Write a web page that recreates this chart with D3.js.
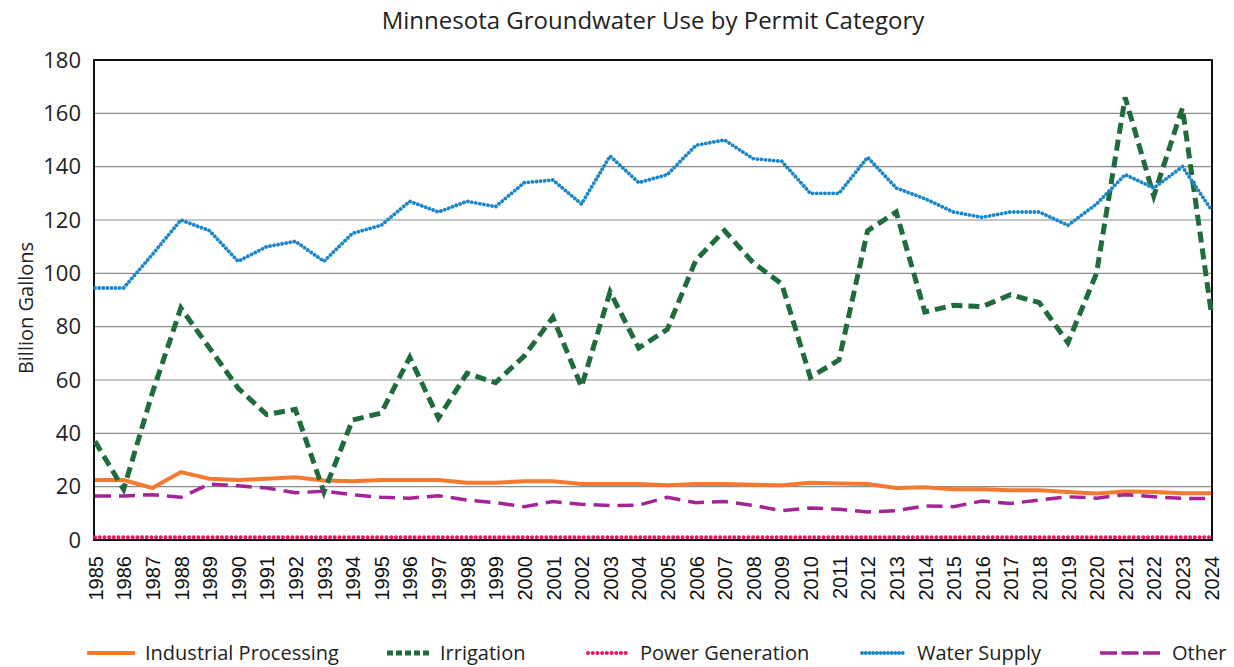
<!DOCTYPE html>
<html>
<head>
<meta charset="utf-8">
<script src="https://cdn.jsdelivr.net/npm/d3@7"></script>
<style>
  body { margin: 0; background: #fff; }
  svg { display: block; }
</style>
</head>
<body>
<div id="chart"></div>
<script>
/* DATA */
const years = d3.range(1985, 2025).map(String);
const yTicks = [0, 20, 40, 60, 80, 100, 120, 140, 160, 180];

const industrial = [22.5, 22.5, 19.5, 25.5, 23, 22.5, 23, 23.5, 22.3, 22, 22.5, 22.5, 22.5, 21.5, 21.5, 22, 22, 21, 21, 21,
  20.5, 21, 21, 20.7, 20.5, 21.5, 21.2, 21, 19.5, 19.8, 19, 19, 18.7, 18.7, 18, 17.4, 18.2, 18, 17.5, 17.5];
const irrigation = [37, 19, 55, 87, 72, 57, 47, 49, 18, 45, 47.6, 68.5, 45.7, 62.5, 59, 69, 83.5, 57.5, 93, 72,
  79, 105, 116, 104, 96, 61, 67.5, 116, 123, 85.5, 88, 87.5, 92, 89, 74, 100, 166, 129, 162, 86];
const power = [1, 1, 1, 1, 1, 1, 1, 1, 1, 1, 1, 1, 1, 1, 1, 1, 1, 1, 1, 1,
  1, 1, 1, 1, 1, 1, 1, 1, 1, 1, 1, 1, 1, 1, 1, 1, 1, 1, 1, 1];
const waterSupply = [94.5, 94.5, 107, 120, 116, 104.5, 110, 112, 104.5, 115, 118, 127, 123, 127, 125, 134, 135, 126, 144, 134,
  137, 148, 150, 143, 142, 130, 130, 143.5, 132, 128, 123, 121, 123, 123, 118, 126, 137, 132, 140, 124];
const other = [16.5, 16.5, 17, 16, 21, 20.3, 19.5, 17.7, 18.3, 17, 16, 15.7, 16.6, 15, 14, 12.5, 14.4, 13.4, 12.9, 13.1,
  16, 14, 14.4, 13, 11, 12, 11.5, 10.5, 11, 12.8, 12.5, 14.6, 13.7, 15, 16.2, 15.7, 17, 16.2, 15.6, 15.6];

const seriesNames = ["Industrial Processing", "Irrigation", "Power Generation", "Water Supply", "Other"];

/* CONSTANTS */
const width = 1234,
  height = 667,
  margin = { top: 60, bottom: 127, left: 94, right: 22 },
  font = "Open Sans, Lato, sans-serif";

const styles = {
  "Industrial Processing": { color: "#F47A2F", width: 4, dash: null, cap: "butt" },
  "Irrigation": { color: "#1F6B3B", width: 5, dash: "11,6", cap: "butt" },
  "Power Generation": { color: "#E6195F", width: 4, dash: "0.1,4.6", cap: "round" },
  "Water Supply": { color: "#1B86C8", width: 3.8, dash: "0.1,4", cap: "round" },
  "Other": { color: "#A42497", width: 3.5, dash: "16,8", cap: "butt" }
};

// legend placement: [line start, line end, text start]
const legendPos = [[87, 135, 145], [387, 430, 440], [588, 630, 640], [862, 906, 917], [1100, 1162, 1172]];
const legendDash = { "Irrigation": "6,3", "Other": "17,4.5", "Water Supply": "0.1,3.6" };

const seriesData = [industrial, irrigation, power, waterSupply, other].map((vals, i) => ({
  name: seriesNames[i],
  values: vals.map((v, j) => ({ year: years[j], value: v }))
}));

const svg = d3.select("#chart").append("svg")
  .attr("width", width)
  .attr("height", height);

// SCALES
const xScale = d3.scalePoint()
  .domain(years)
  .range([margin.left + 1, width - margin.right - 1]);

const yScale = d3.scaleLinear()
  .domain([0, 180])
  .range([height - margin.bottom, margin.top]);

// title
svg.append("text")
  .attr("x", 653)
  .attr("y", 29)
  .attr("text-anchor", "middle")
  .attr("font-family", font)
  .attr("font-size", 24)
  .attr("fill", "#222")
  .text("Minnesota Groundwater Use by Permit Category");

// gridlines
svg.append("g")
  .attr("class", "grid")
  .selectAll("line")
  .data(yTicks)
  .join("line")
  .attr("x1", margin.left)
  .attr("x2", width - margin.right)
  .attr("y1", d => yScale(d))
  .attr("y2", d => yScale(d))
  .attr("stroke", "#8c8c8c")
  .attr("stroke-width", 1.2);

// plot frame (drawn under the series like the original)
svg.append("rect")
  .attr("x", margin.left)
  .attr("y", margin.top)
  .attr("width", width - margin.left - margin.right)
  .attr("height", height - margin.top - margin.bottom)
  .attr("fill", "none")
  .attr("stroke", "#111")
  .attr("stroke-width", 2);

// y axis
const yAxis = d3.axisLeft(yScale).tickValues(yTicks).tickSize(0).tickPadding(13);
svg.append("g")
  .attr("transform", `translate(${margin.left},0)`)
  .call(yAxis)
  .call(g => g.select(".domain").remove())
  .selectAll("text")
  .attr("font-family", font)
  .attr("font-size", 22)
  .attr("fill", "#222");

svg.append("text")
  .attr("transform", `translate(26,${(margin.top + height - margin.bottom) / 2 + 8}) rotate(-90)`)
  .attr("text-anchor", "middle")
  .attr("dy", "0.35em")
  .attr("font-family", font)
  .attr("font-size", 20)
  .attr("fill", "#222")
  .text("Billion Gallons");

// x axis
const xAxis = d3.axisBottom(xScale).tickSize(0).tickPadding(0);
svg.append("g")
  .attr("transform", `translate(0,${height - margin.bottom})`)
  .call(xAxis)
  .call(g => g.select(".domain").remove())
  .selectAll("text")
  .attr("font-family", "Liberation Sans, Arial, sans-serif")
  .attr("font-size", 20)
  .attr("fill", "#111")
  .attr("text-anchor", "end")
  .attr("dy", "0.36em")
  .attr("transform", "translate(0,16) rotate(-90)");

// LINES
const lineFunc = d3.line()
  .x(d => xScale(d.year))
  .y(d => yScale(d.value));

svg.append("g")
  .selectAll("path.series")
  .data(seriesData)
  .join("path")
  .attr("class", "series")
  .attr("fill", "none")
  .attr("stroke", d => styles[d.name].color)
  .attr("stroke-width", d => styles[d.name].width)
  .attr("stroke-dasharray", d => styles[d.name].dash)
  .attr("stroke-linecap", d => styles[d.name].cap)
  .attr("stroke-linejoin", "miter")
  .attr("d", d => lineFunc(d.values));

// LEGEND
const legend = svg.append("g")
  .selectAll("g")
  .data(seriesNames)
  .join("g")
  .attr("transform", "translate(0,653)");

legend.append("line")
  .attr("x1", (d, i) => legendPos[i][0])
  .attr("x2", (d, i) => legendPos[i][1])
  .attr("stroke", d => styles[d].color)
  .attr("stroke-width", d => styles[d].width)
  .attr("stroke-dasharray", d => legendDash[d] || styles[d].dash)
  .attr("stroke-linecap", d => styles[d].cap);

legend.append("text")
  .attr("x", (d, i) => legendPos[i][2])
  .attr("dy", "0.35em")
  .attr("font-family", font)
  .attr("font-size", 20)
  .attr("fill", "#222")
  .text(d => d);
</script>
</body>
</html>
